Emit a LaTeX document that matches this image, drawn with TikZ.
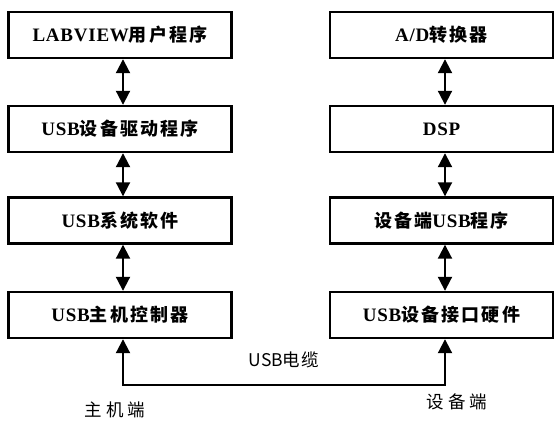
\documentclass[tikz,border=0pt]{standalone}
\usepackage{fontspec}
\usetikzlibrary{arrows.meta}
\setmainfont{Liberation Serif}[LetterSpace=4]
\newfontfamily\cjkb[LetterSpace=12]{Noto Sans CJK SC Bold}
\newfontfamily\cjkr[LetterSpace=22]{Noto Sans CJK SC}
\newfontfamily\cjkc[LetterSpace=8]{Noto Sans CJK SC}
\newfontfamily\latr{Noto Sans CJK SC}
\newcommand{\zhb}[1]{{\fontsize{18}{20}\selectfont\cjkb #1}}
\begin{document}
\begin{tikzpicture}[x=1pt,y=-1pt,
  blk/.style={draw, line width=2.4pt, minimum width=223pt, minimum height=46pt, inner sep=0pt,
    font=\fontsize{19}{21}\selectfont\bfseries},
  dbl/.style={line width=2pt, {Triangle[width=14pt,length=14pt]}-{Triangle[width=14pt,length=14pt]}},
  lbl/.style={font=\fontsize{17.5}{19}\selectfont\cjkr}]
\useasboundingbox (0,0) rectangle (555,421);
\node[blk] (L1) at (120,35) {LABVIEW\zhb{用户程序}};
\node[blk] (L2) at (120,129) {USB\zhb{设备驱动程序}};
\node[blk] (L3) at (120,220.5) {USB\zhb{系统软件}};
\node[blk] (L4) at (120,315) {USB\zhb{主机控制器}};
\node[blk] (R1) at (441.5,35) {A/D\zhb{转换器}};
\node[blk] (R2) at (441.5,129) {DSP};
\node[blk] (R3) at (441.5,220.5) {\zhb{设备端}USB\zhb{程序}};
\node[blk] (R4) at (441.5,315) {USB\zhb{设备接口硬件}};
\foreach \a/\b in {L1/L2,L2/L3,L3/L4}{
  \draw[dbl] ([xshift=3pt]\a.south) -- ([xshift=3pt]\b.north);}
\foreach \a/\b in {R1/R2,R2/R3,R3/R4}{
  \draw[dbl] ([xshift=3.5pt]\a.south) -- ([xshift=3.5pt]\b.north);}
\coordinate (c1) at (123,385);
\coordinate (c2) at (445,385);
\draw[dbl] ([xshift=3pt]L4.south) -- (c1) -- (c2) -- ([xshift=3.5pt]R4.south);
\node[font=\fontsize{17.5}{19}\selectfont\cjkc] (cable) at (284,360) {{\latr USB}电缆};
\node[lbl] (host) at (115,410) {主机端};
\node[lbl] (dev) at (457,402) {设备端};
\end{tikzpicture}
\end{document}
